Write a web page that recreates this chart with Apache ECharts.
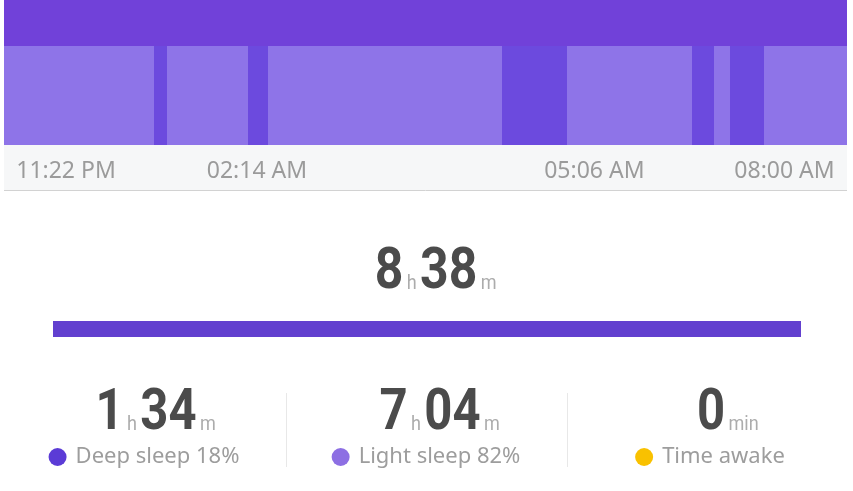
<!DOCTYPE html>
<html>
<head>
<meta charset="utf-8">
<script src="https://cdn.jsdelivr.net/npm/echarts@6/dist/echarts.min.js"></script>
<style>
  html, body { margin: 0; padding: 0; background: #fff; }
  #chart { width: 853px; height: 491px; }
</style>
</head>
<body>
<div id="chart"></div>
<script>
// ---------- data ----------
const START_CLOCK = '23:22';
const END_CLOCK = '08:00';

// sleep stages, one entry per segment
const segStart = ['23:22', '00:54', '01:02', '01:52', '02:04', '04:28', '05:08', '06:25', '06:38', '06:48', '07:09'];
const segEnd   = ['00:54', '01:02', '01:52', '02:04', '04:28', '05:08', '06:25', '06:38', '06:48', '07:09', '08:00'];
const segStage = ['light', 'deep', 'light', 'deep', 'light', 'deep', 'light', 'deep', 'light', 'deep', 'light'];

// time axis labels
const tickClock  = ['23:22', '02:14', '05:06', '08:00'];
const tickLabels = ['11:22 PM', '02:14 AM', '05:06 AM', '08:00 AM'];

// summary
const summaryNames   = ['Deep sleep', 'Light sleep', 'Time awake'];
const summaryMinutes = [94, 424, 0];
const summaryPercent = [18, 82, null];
const totalMinutes   = 518;

// ---------- styles ----------
const NUM_FONT = 'Roboto, "Noto Sans", sans-serif';
const TXT_FONT = '"Noto Sans", Roboto, sans-serif';
const stageColor = { deep: '#6c4ade', light: '#8e74e8', awake: '#f9c100' };
const dotColors = ['#5b3bd6', '#8d6fe3', '#f9c100'];
// label shifts (rich padding) so labels sit like the app's strip
const tickPad = [[0, 0, 0, 124], [0, 54, 0, 0], [0, 0, 0, 61], [0, 125, 0, 0]];

function toMin(clock) {
  const [h, m] = clock.split(':').map(Number);
  const [sh, sm] = START_CLOCK.split(':').map(Number);
  let d = h * 60 + m - (sh * 60 + sm);
  if (d < 0) d += 1440;
  return d;
}

const stageKeys = ['deep', 'light', 'awake'];
const segData = segStart.map((s, i) => [toMin(s), toMin(segEnd[i]), stageKeys.indexOf(segStage[i])]);
const tickMins = tickClock.map(toMin);
const spanMin = toMin(END_CLOCK);

const tickRich = {};
tickPad.forEach((p, i) => {
  tickRich['t' + i] = { padding: p, fontSize: 23, color: '#9b9b9b', fontFamily: TXT_FONT };
});

// ---------- number groups ----------
// ghost token on the left mirrors the trailing unit so the digits stay centred
function durationText(min) {
  const h = Math.floor(min / 60);
  const m = min % 60;
  if (min === 0) return '{ghost|min}{big|0}{unit|min}';
  const mm = h > 0 ? String(m).padStart(2, '0') : String(m);
  return '{ghost|m}{big|' + h + '}{unit|h}{big|' + mm + '}{unit|m}';
}

function numRich(bigSize, unitSize) {
  return {
    big: { fontSize: bigSize, fontFamily: NUM_FONT, fontWeight: 'bold', fill: '#4b4b4b', lineHeight: bigSize, verticalAlign: 'bottom' },
    unit: { fontSize: unitSize, fontFamily: NUM_FONT, fill: '#acacac', padding: [0, 4, 8, 4], verticalAlign: 'bottom' },
    ghost: { fontSize: unitSize, fontFamily: NUM_FONT, fill: 'rgba(0,0,0,0)', padding: [0, 4, 8, 4], verticalAlign: 'bottom' }
  };
}

const colCenters = [144, 426, 710];
const graphics = [
  { type: 'rect', shape: { x: 4, y: 0, width: 843, height: 46 }, style: { fill: '#7141d9' }, z: -1 },
  { type: 'rect', shape: { x: 4, y: 145, width: 843, height: 45 }, style: { fill: '#f6f7f8' }, z: -1 },
  { type: 'line', shape: { x1: 4, y1: 190.5, x2: 847, y2: 190.5 }, style: { stroke: '#d2d2d2', lineWidth: 1 } },
  { type: 'line', shape: { x1: 286.5, y1: 393, x2: 286.5, y2: 467 }, style: { stroke: '#e8e8e8', lineWidth: 1 } },
  { type: 'line', shape: { x1: 567.5, y1: 393, x2: 567.5, y2: 467 }, style: { stroke: '#e8e8e8', lineWidth: 1 } },
  {
    type: 'text', x: 426, y: 302, scaleX: 0.86,
    style: { text: durationText(totalMinutes), rich: numRich(58, 21), align: 'center', verticalAlign: 'bottom' }
  }
];

const numCenters = [146, 430, 711];
summaryNames.forEach((name, i) => {
  graphics.push({
    type: 'text', x: numCenters[i], y: 443, scaleX: 0.86,
    style: { text: durationText(summaryMinutes[i]), rich: numRich(57, 21), align: 'center', verticalAlign: 'bottom' }
  });
  const label = summaryPercent[i] != null ? name + ' ' + summaryPercent[i] + '%' : name;
  graphics.push({
    type: 'text', x: colCenters[i], y: 457,
    style: {
      text: '{dot|}{txt|' + label + '}',
      align: 'center', verticalAlign: 'middle',
      rich: {
        dot: { width: 18, height: 18, borderRadius: 9, backgroundColor: dotColors[i] },
        txt: { fontSize: 22, fontFamily: TXT_FONT, fill: '#9d9d9d', padding: [0, 0, 0, 9] }
      }
    }
  });
});

const chart = echarts.init(document.getElementById('chart'));
chart.setOption({
  animation: false,
  backgroundColor: '#ffffff',
  grid: [
    { left: 4, right: 6, top: 46, height: 99 },
    { left: 53, right: 52, top: 321, height: 16 }
  ],
  xAxis: [
    {
      type: 'value', gridIndex: 0, min: 0, max: spanMin,
      axisLine: { show: false }, axisTick: { show: false }, splitLine: { show: false },
      axisLabel: {
        customValues: tickMins,
        showMinLabel: true, showMaxLabel: true,
        margin: 15,
        formatter: (v) => {
          const i = tickMins.indexOf(v);
          return i < 0 ? '' : '{t' + i + '|' + tickLabels[i] + '}';
        },
        rich: tickRich
      }
    },
    { type: 'value', gridIndex: 1, min: 0, max: totalMinutes, show: false }
  ],
  yAxis: [
    { type: 'value', gridIndex: 0, min: 0, max: 1, show: false },
    { type: 'category', gridIndex: 1, data: ['total'], show: false }
  ],
  series: [
    {
      type: 'custom', xAxisIndex: 0, yAxisIndex: 0,
      encode: { x: [0, 1] },
      data: segData,
      renderItem: (params, api) => {
        const a = api.coord([api.value(0), 1]);
        const b = api.coord([api.value(1), 0]);
        const x0 = Math.round(a[0]);
        const x1 = Math.round(b[0]);
        return {
          type: 'rect',
          shape: { x: x0, y: a[1], width: x1 - x0, height: b[1] - a[1] },
          style: { fill: stageColor[stageKeys[api.value(2)]] }
        };
      }
    },
    {
      type: 'bar', xAxisIndex: 1, yAxisIndex: 1,
      barWidth: 16, data: [totalMinutes],
      itemStyle: { color: '#6240cf' }
    }
  ],
  graphic: graphics
});
</script>
</body>
</html>
